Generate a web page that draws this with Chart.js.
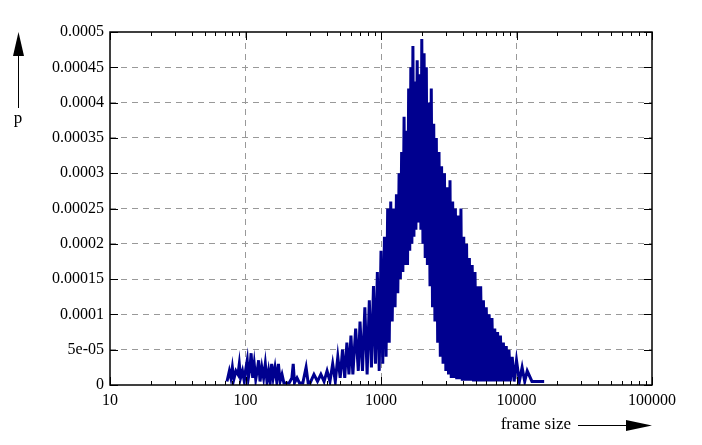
<!DOCTYPE html>
<html>
<head>
<meta charset="utf-8">
<script src="https://cdn.jsdelivr.net/npm/chart.js@4"></script>
<style>
  html, body { margin: 0; padding: 0; background: #fff; }
  #wrap { width: 702px; height: 445px; }
</style>
</head>
<body>
<div id="wrap"><canvas id="c"></canvas></div>
<script>
// frame sizes (x) and probability in units of 1e-5 (y)
const frameSizes = [
  73, 76, 78, 80, 82, 85, 88, 90, 92, 95, 98, 100, 103, 105, 108, 110, 113, 116, 119, 122,
  125, 128, 132, 136, 140, 144, 148, 152, 156, 160, 165, 170, 175, 180, 186, 192, 200, 210, 220, 225,
  230, 240, 250, 265, 280, 290, 300, 320, 340, 360, 380, 400, 420, 440, 460, 480, 500, 520, 540, 560,
  580, 600, 620, 650, 680, 700, 730, 760, 790, 820, 850, 880, 910, 940, 970, 1000, 1030, 1060, 1090, 1120,
  1150, 1180, 1210, 1240, 1270, 1300, 1330, 1360, 1390, 1420, 1450, 1480, 1510, 1540, 1570, 1600, 1630, 1660, 1690, 1720,
  1750, 1780, 1810, 1850, 1890, 1930, 1970, 2000, 2040, 2080, 2120, 2160, 2200, 2250, 2300, 2350, 2400, 2450, 2500, 2560,
  2620, 2680, 2740, 2800, 2870, 2940, 3010, 3080, 3150, 3230, 3300, 3380, 3460, 3540, 3620, 3710, 3800, 3890, 3980, 4080,
  4180, 4280, 4380, 4490, 4600, 4710, 4820, 4940, 5060, 5180, 5310, 5440, 5570, 5700, 5840, 5980, 6130, 6280, 6430, 6590,
  6750, 6910, 7080, 7250, 7430, 7610, 7800, 8000, 8200, 8400, 8600, 8800, 9000, 9300, 9600, 10000, 10500, 11000, 11500, 12000,
  13000, 14000, 16000
];
const probE5 = [
  0.5, 2, 1, 2.5, 0.8, 2, 1.5, 3, 1, 2, 0.5, 2, 3.5, 1, 2.5, 4.5, 1, 3, 0.8, 2,
  3.5, 0.5, 2.5, 1, 3, 0.5, 2, 0.3, 3, 1, 2.5, 0.5, 3, 0.5, 1.5, 0.3, 0.3, 0.3, 1, 3,
  0.3, 1, 0.3, 0.3, 2.5, 0.3, 0.3, 1.5, 0.5, 1.5, 0.5, 2, 0.5, 3, 0.5, 4, 1, 5, 1, 6,
  1.5, 7, 1.5, 8, 2, 9, 2, 11, 1.5, 12, 2.5, 14, 3, 16, 2, 19, 3, 21, 4, 25,
  6, 26, 9, 25, 11, 27, 13, 30, 15, 33, 16, 38, 17, 36, 17, 42, 19, 45, 20, 48,
  21, 43, 22, 46, 23, 44, 22, 49, 20, 47, 18, 45, 17, 40, 14, 42, 11, 37, 9, 35,
  6, 33, 4, 31, 3, 30, 2, 28, 1.5, 29, 1, 26, 1, 25, 0.8, 24, 0.8, 25, 0.6, 21,
  0.6, 20, 0.6, 18, 0.6, 17, 0.5, 16, 0.5, 14, 0.5, 14, 0.5, 12, 0.5, 11, 0.5, 10, 0.5, 9.5,
  0.5, 8, 0.5, 7.5, 0.5, 7, 0.5, 6, 0.5, 5.5, 0.5, 5, 0.5, 4, 0.5, 3.5, 0.5, 2.5, 0.5, 2,
  0.5, 0.5, 0.5
];
const yTickLabels = ['0', '5e-05', '0.0001', '0.00015', '0.0002', '0.00025', '0.0003', '0.00035', '0.0004', '0.00045', '0.0005'];
const xTickLabels = ['10', '100', '1000', '10000', '100000'];

const FONT = '"Liberation Serif", "DejaVu Serif", serif';
const points = frameSizes.map((x, i) => ({ x: x, y: probE5[i] * 1e-5 }));
const isPow10 = v => Math.abs(Math.log10(v) - Math.round(Math.log10(v))) < 1e-9;

const framePlugin = {
  id: 'frame',
  afterDraw(chart) {
    const { ctx, chartArea: a, scales } = chart;
    const xs = scales.x, ys = scales.y;
    ctx.save();
    ctx.strokeStyle = '#000';
    ctx.lineWidth = 1;
    // x ticks (major and minor), bottom and top, pointing inward
    for (let d = 10; d < 100000; d *= 10) {
      for (let k = 1; k <= 10; k++) {
        const v = d * k;
        if (v > 100000) break;
        const px = Math.round(xs.getPixelForValue(v)) + 0.5;
        const len = (k === 1 || k === 10) ? 8 : 4;
        ctx.beginPath();
        ctx.moveTo(px, a.bottom); ctx.lineTo(px, a.bottom - len);
        ctx.moveTo(px, a.top); ctx.lineTo(px, a.top + len);
        ctx.stroke();
      }
    }
    // y ticks, left and right
    for (let i = 0; i < yTickLabels.length; i++) {
      const py = Math.round(ys.getPixelForValue(i * 5e-5)) + 0.5;
      ctx.beginPath();
      ctx.moveTo(a.left, py); ctx.lineTo(a.left + 8, py);
      ctx.moveTo(a.right, py); ctx.lineTo(a.right - 8, py);
      ctx.stroke();
    }
    ctx.lineWidth = 1.5;
    ctx.strokeRect(a.left, a.top, a.right - a.left, a.bottom - a.top);

    // axis labels with arrows
    ctx.fillStyle = '#000';
    ctx.font = '17px ' + FONT;
    ctx.textAlign = 'center';
    ctx.textBaseline = 'middle';
    ctx.fillText('p', 18, 119);
    ctx.lineWidth = 1;
    ctx.beginPath(); ctx.moveTo(18.5, 108); ctx.lineTo(18.5, 50); ctx.stroke();
    ctx.beginPath(); ctx.moveTo(18.5, 32); ctx.lineTo(13, 56); ctx.lineTo(24, 56); ctx.closePath(); ctx.fill();

    ctx.textAlign = 'right';
    ctx.fillText('frame size', 571, 425);
    ctx.beginPath(); ctx.moveTo(578, 425.5); ctx.lineTo(630, 425.5); ctx.stroke();
    ctx.beginPath(); ctx.moveTo(652, 425.5); ctx.lineTo(626, 420); ctx.lineTo(626, 431); ctx.closePath(); ctx.fill();
    ctx.restore();
  }
};

new Chart(document.getElementById('c'), {
  type: 'line',
  data: {
    datasets: [{
      data: points,
      borderColor: '#00008f',
      borderWidth: 3,
      pointRadius: 0,
      tension: 0,
      fill: false
    }]
  },
  options: {
    responsive: true,
    maintainAspectRatio: false,
    animation: false,
    layout: { padding: { left: 0, right: 50, top: 32, bottom: 0 } },
    plugins: { legend: { display: false }, tooltip: { enabled: false } },
    scales: {
      x: {
        type: 'logarithmic',
        min: 10,
        max: 100000,
        afterFit: s => { s.height = 60; },
        border: { display: false, dash: [6, 5] },
        grid: {
          drawTicks: false,
          color: c => (c.tick && isPow10(c.tick.value) && c.tick.value > 10 && c.tick.value < 100000) ? '#999' : 'rgba(0,0,0,0)'
        },
        ticks: {
          autoSkip: false,
          maxRotation: 0,
          padding: 6,
          color: '#000',
          font: { family: FONT, size: 16 },
          callback: v => isPow10(v) ? xTickLabels[Math.round(Math.log10(v)) - 1] : ''
        }
      },
      y: {
        min: 0,
        max: 0.0005,
        afterFit: s => { s.width = 110; },
        border: { display: false, dash: [6, 5] },
        grid: {
          drawTicks: false,
          color: c => (c.index > 0 && c.index < yTickLabels.length - 1) ? '#999' : 'rgba(0,0,0,0)'
        },
        ticks: {
          stepSize: 0.00005,
          padding: 6,
          color: '#000',
          font: { family: FONT, size: 16 },
          callback: (v, i) => yTickLabels[i]
        }
      }
    }
  },
  plugins: [framePlugin]
});
</script>
</body>
</html>
